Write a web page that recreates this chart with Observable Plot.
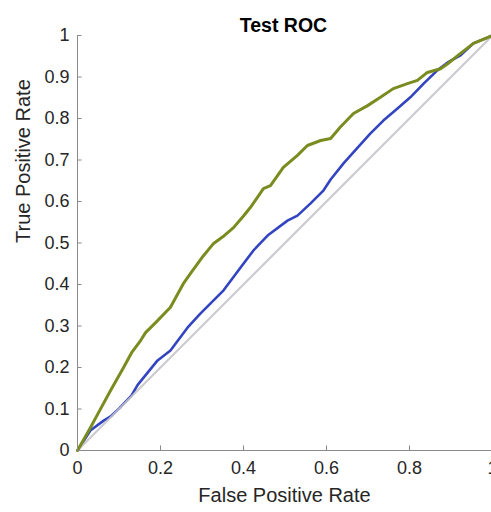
<!DOCTYPE html>
<html>
<head>
<meta charset="utf-8">
<script src="https://cdn.jsdelivr.net/npm/d3@7"></script>
<script src="https://cdn.jsdelivr.net/npm/@observablehq/plot@0.6"></script>
<style>
  html, body { margin: 0; padding: 0; background: #fff; overflow: hidden; }
  svg { font-family: "Liberation Sans", Arial, Helvetica, sans-serif; }
</style>
</head>
<body>
<div id="chart"></div>
<script>
const title = "Test ROC";
const xLabel = "False Positive Rate";
const yLabel = "True Positive Rate";
const xTicks = [0, 0.2, 0.4, 0.6, 0.8, 1];
const yTicks = [0, 0.1, 0.2, 0.3, 0.4, 0.5, 0.6, 0.7, 0.8, 0.9, 1];

const greenFPR = [0, .031, .05, .08, .111, .13, .152, .164, .19, .224, .255, .272, .30, .328, .35, .376, .40, .417, .448, .465, .496, .53, .554, .586, .61, .634, .665, .699, .73, .761, .795, .819, .843, .875, .892, .923, .954, .988, 1];
const greenTPR = [0, .055, .09, .145, .2, .235, .265, .284, .31, .345, .402, .426, .465, .499, .515, .537, .565, .586, .631, .638, .682, .711, .735, .747, .752, .78, .812, .831, .851, .872, .884, .892, .911, .92, .932, .957, .981, .995, 1];

const blueFPR = [0, .031, .063, .08, .10, .13, .145, .193, .224, .265, .296, .32, .352, .393, .424, .458, .506, .53, .561, .593, .61, .641, .675, .706, .737, .771, .802, .834, .867, .892, .923, .954, 1];
const blueTPR = [0, .048, .072, .082, .101, .132, .158, .217, .241, .296, .33, .354, .386, .441, .482, .518, .554, .566, .595, .627, .653, .692, .73, .764, .795, .824, .851, .884, .916, .935, .952, .981, 1];

const diagonal = [0, 1];

const green = greenFPR.map((x, i) => ({x, y: greenTPR[i]}));
const blue = blueFPR.map((x, i) => ({x, y: blueTPR[i]}));
const diag = diagonal.map(v => ({x: v, y: v}));

const axisColor = "#8a8a8a";
const textColor = "#262626";

const chart = Plot.plot({
  width: 491,
  height: 512,
  marginLeft: 77,
  marginRight: 0,
  marginTop: 35,
  marginBottom: 62,
  style: {fontFamily: '"Liberation Sans", Arial, Helvetica, sans-serif', overflow: "visible"},
  x: {domain: [0, 1], range: [77, 492]},
  y: {domain: [0, 1]},
  marks: [
    Plot.line(blue, {x: "x", y: "y", stroke: "#3344c0", strokeWidth: 2.6}),
    Plot.line(diag, {x: "x", y: "y", stroke: "#c4c4c8", strokeWidth: 2.2, strokeOpacity: 0.88}),
    Plot.line(green, {x: "x", y: "y", stroke: "#7a8b1f", strokeWidth: 3}),
    Plot.ruleY([0], {stroke: axisColor, strokeWidth: 1}),
    Plot.ruleX([0], {stroke: axisColor, strokeWidth: 1}),
    Plot.ruleX(xTicks.slice(1), {x: d => d, y1: 0, y2: 0.011, stroke: axisColor}),
    Plot.ruleY(yTicks.slice(1), {y: d => d, x1: 0, x2: 0.011, stroke: axisColor}),
    Plot.axisX(xTicks, {tickSize: 0, tickPadding: 11, fontSize: 18, fill: textColor, label: null, tickFormat: d => String(d)}),
    Plot.axisY(yTicks, {tickSize: 0, tickPadding: 8, fontSize: 18, fill: textColor, label: null, tickFormat: d => String(d)}),
    Plot.text([title], {frameAnchor: "top", dy: -17, dx: -1, fontSize: 19.5, fontWeight: "bold", fill: "#000", text: d => d}),
    Plot.text([xLabel], {frameAnchor: "bottom", dy: 51, fontSize: 20, fill: textColor, text: d => d}),
    Plot.text([yLabel], {frameAnchor: "left", dx: -54, rotate: -90, fontSize: 20, fill: textColor, text: d => d})
  ]
});
document.getElementById("chart").appendChild(chart);
</script>
</body>
</html>
